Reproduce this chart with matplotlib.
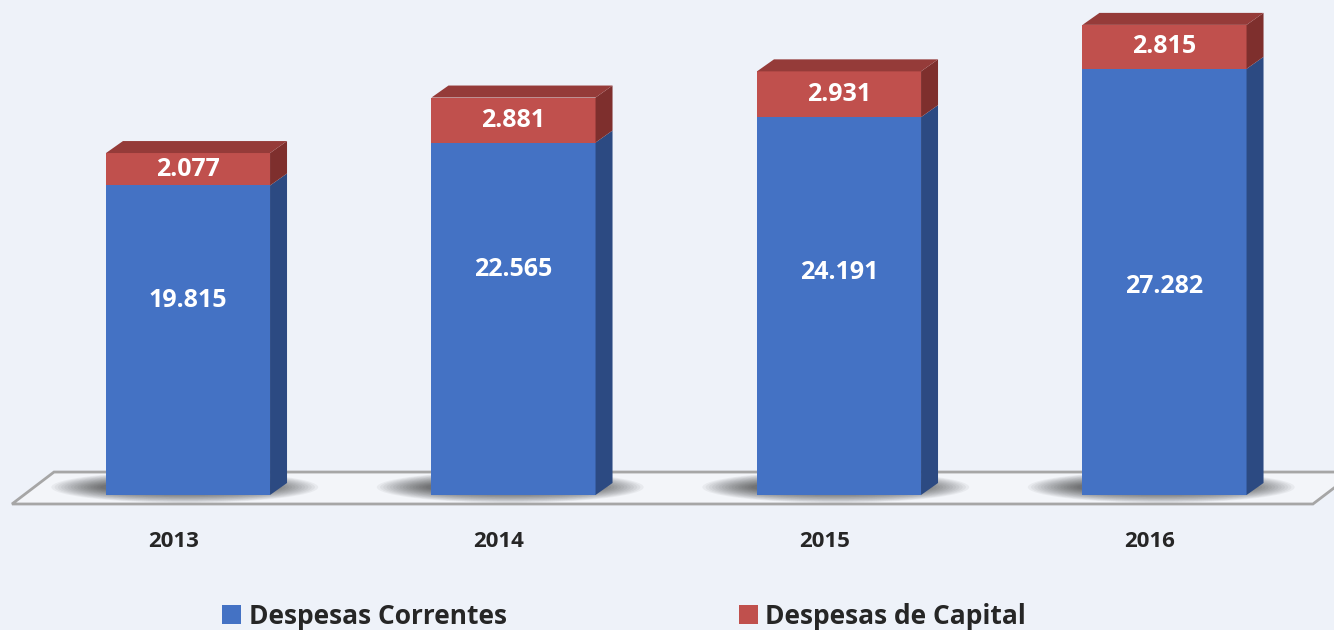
import numpy as np
import matplotlib
matplotlib.use("Agg")
import matplotlib.pyplot as plt
from matplotlib.patches import Polygon, Rectangle, Ellipse

# data
anos = ["2013", "2014", "2015", "2016"]
correntes = [19.815, 22.565, 24.191, 27.282]
capital = [2.077, 2.881, 2.931, 2.815]
series_names = ["Despesas Correntes", "Despesas de Capital"]

# label heights inside the blue segment (as fraction of it)
lbl_frac = [0.63, 0.64, 0.59, 0.49]

bg = "#EEF2F9"
blue, blue_side = "#4472C4", "#2C4A82"
red, red_side, red_top = "#C0504D", "#7E2F2D", "#953B39"

plt.rcParams['font.family'] = ['Open Sans', 'DejaVu Sans']

fig = plt.figure(figsize=(13.34, 6.3), dpi=100, facecolor=bg)
ax = fig.add_axes([0, 0, 1, 1])
ax.set_facecolor(bg)
ax.set_xlim(-0.5776, 3.5207)
ax.set_ylim(-8.643, 31.69)
ax.axis("off")

w = 0.504        # front face width
dx, dy = 0.0522, 0.768   # depth offset

# floor
floor = Polygon([(-0.5407, -0.576), (-0.4117, 1.47), (3.585, 1.47), (3.456, -0.576)],
                closed=True, facecolor="#F3F5F9", edgecolor="#A6A6A6", lw=2, zorder=1)
ax.add_patch(floor)

x = np.arange(len(anos))
for i in x:
    b = correntes[i]
    t = b + capital[i]
    x0, x1 = i - w / 2, i + w / 2

    # shadow
    for k in range(16):
        f = k / 15
        ax.add_patch(Ellipse((i - 0.01, 0.5), 0.82 - 0.3 * f, 2.0 - 1.2 * f,
                             facecolor="black", alpha=0.045, lw=0, zorder=2))

    ax.add_patch(Rectangle((x0, 0), w, b, facecolor=blue, lw=0, zorder=4))
    ax.add_patch(Polygon([(x1, 0), (x1 + dx, dy), (x1 + dx, b + dy), (x1, b)],
                         facecolor=blue_side, lw=0, zorder=4))
    ax.add_patch(Rectangle((x0, b), w, capital[i], facecolor=red, lw=0, zorder=5))
    ax.add_patch(Polygon([(x1, b), (x1 + dx, b + dy), (x1 + dx, t + dy), (x1, t)],
                         facecolor=red_side, lw=0, zorder=5))
    ax.add_patch(Polygon([(x0, t), (x0 + dx, t + dy), (x1 + dx, t + dy), (x1, t)],
                         facecolor=red_top, lw=0, zorder=5))

    ax.text(i, b * lbl_frac[i], f"{correntes[i]:.3f}", color="white", fontsize=18,
            fontweight="bold", ha="center", va="center", zorder=6)
    ax.text(i, b + capital[i] / 2, f"{capital[i]:.3f}", color="white", fontsize=18,
            fontweight="bold", ha="center", va="center", zorder=6)
    ax.text(i - 0.045, -2.95, anos[i], color="#262626", fontsize=16,
            fontweight="bold", ha="center", va="center")

# legend
handles = [Rectangle((0, 0), 1, 1, facecolor=blue), Rectangle((0, 0), 1, 1, facecolor=red)]
fig.legend(handles, series_names, loc="center", bbox_to_anchor=(0.468, 0.022), ncol=2,
           frameon=False, handlelength=0.7, handleheight=0.7, handletextpad=0.3,
           columnspacing=8.8, prop={"size": 19, "weight": "bold"}, labelcolor="#262626")

fig.savefig("out.png", dpi=100, facecolor=bg)
